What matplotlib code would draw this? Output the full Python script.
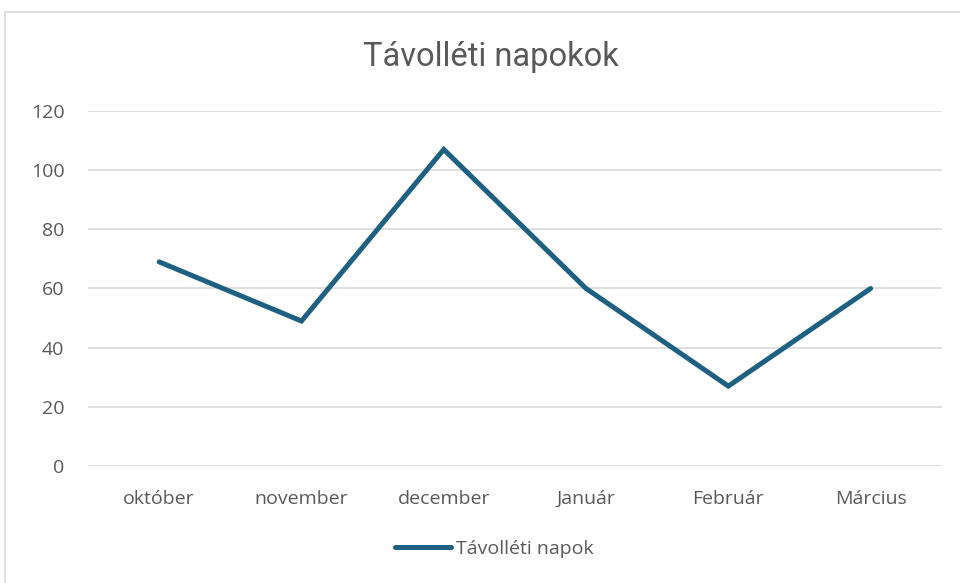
import numpy as np
import matplotlib.pyplot as plt
from matplotlib.patches import Rectangle

months = ['október', 'november', 'december', 'Január', 'Február', 'Március']
absences = [69, 49, 107, 60, 27, 60]
yticks = [0, 20, 40, 60, 80, 100, 120]

plt.rcParams['font.family'] = ['Open Sans', 'DejaVu Sans']

fig = plt.figure(figsize=(9.6, 5.83), dpi=100)
ax = fig.add_axes([0.0917, 0.2007, 0.8893, 0.6089])

# outer chart border (only top/left visible in reference)
fig.patches.append(Rectangle((5 / 960, -0.05), 1.2, 1 - 12 / 583 + 0.05,
                             transform=fig.transFigure, fill=False,
                             edgecolor='#d9d9d9', linewidth=1.2))

x = np.arange(len(months))
ax.plot(x, absences, color='#1d6082', linewidth=3.6, solid_capstyle='round',
        solid_joinstyle='miter', label='Távolléti napok', zorder=3)

ax.set_xlim(-0.5, len(months) - 0.5)
ax.set_ylim(0, 120)
ax.set_yticks(yticks)
ax.set_xticks(x)
ax.set_xticklabels(months)
ax.grid(axis='y', color='#d9d9d9', linewidth=1.2)
ax.set_axisbelow(True)
for s in ax.spines.values():
    s.set_visible(False)
ax.tick_params(length=0, labelsize=14, labelcolor='#595959')
ax.tick_params(axis='x', pad=17)
ax.tick_params(axis='y', pad=17)

fig.text(0.511, 1 - 57 / 583, 'Távolléti napokok', ha='center', va='center',
         fontsize=23.5, color='#595959',
         family=['Roboto', 'DejaVu Sans'])

fig.legend(loc='center', bbox_to_anchor=(0.515, 1 - 549 / 583), frameon=False,
           fontsize=14, labelcolor='#595959', handlelength=2.85, handletextpad=0.26)

fig.savefig('out.png', dpi=100)
